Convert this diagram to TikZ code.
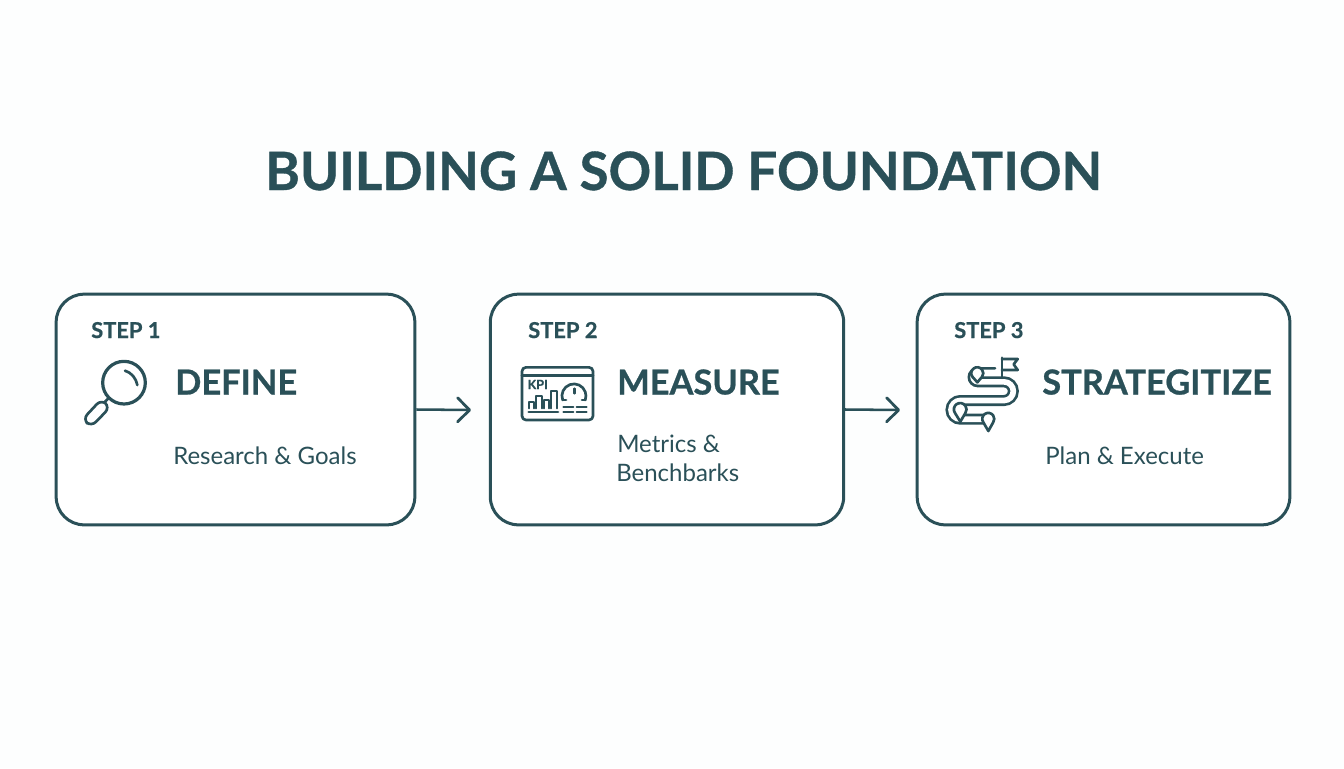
\documentclass[tikz,border=0pt]{standalone}
\usepackage{fontspec}
\setmainfont{Lato}
\newfontfamily\heavy[BoldFeatures={FakeBold=0.7}]{Lato}
\usetikzlibrary{arrows.meta}
\definecolor{teal}{HTML}{2A5058}
\definecolor{bgc}{HTML}{FDFEFE}
\tikzset{
 card/.style={draw=teal,line width=2.25pt,rounded corners=21pt,fill=white,inner sep=0pt},
 ink/.style={text=teal,inner sep=0pt,anchor=base west},
 titletext/.style={ink,anchor=base,font=\heavy\fontsize{39.6}{40}\selectfont\bfseries},
 steptext/.style={ink,font=\heavy\fontsize{16.4}{17}\selectfont\bfseries},
 headtext/.style={ink,font=\heavy\fontsize{25.8}{28}\selectfont\bfseries},
 subtext/.style={ink,font=\fontsize{18}{18}\selectfont},
 flow/.style={draw=teal,line width=1.9pt,-{Straight Barb[length=9pt,width=18pt,line width=2.1pt,round]}},
 icon/.style={draw=teal,line width=2pt,line cap=round,line join=round},
 thin/.style={draw=teal,line width=1.5pt,line cap=round,line join=round},
}
\begin{document}
\begin{tikzpicture}[x=0.75pt,y=-0.75pt]
\useasboundingbox[fill=bgc] (0,0) rectangle (1344,768);
\node[titletext] (title) at (683.5,190) {BUILDING A SOLID FOUNDATION};
\node[card,minimum width=269pt,minimum height=173pt] (box1) at (235.5,409.5) {};
\node[card,minimum width=265pt,minimum height=173pt] (box2) at (667,409.5) {};
\node[card,minimum width=279.5pt,minimum height=173pt] (box3) at (1103.5,409.5) {};
\coordinate (end1) at (471,410);
\coordinate (end2) at (900,410);
\draw[flow] (box1.east) -- (end1);
\draw[flow] (box2.east) -- (end2);
\node[steptext] (s1) at (91,338) {STEP 1};
\node[steptext] (s2) at (528,338) {STEP 2};
\node[steptext] (s3) at (954,338) {STEP 3};
\node[headtext] (h1) at (175,394.5) {DEFINE};
\node[headtext] (h2) at (617,394.5) {MEASURE};
\node[headtext] (h3) at (1042,394.5) {STRATEGITIZE};
\node[subtext] (d1) at (173,464) {Research \& Goals};
\node[subtext] (d2a) at (617,452) {Metrics \&};
\node[subtext] (d2b) at (616,481) {Benchbarks};
\node[subtext] (d3) at (1045,464) {Plan \& Execute};
% magnifier
\begin{scope}[shift={(60,310)},x=0.25pt,y=-0.25pt]
\draw[icon,line width=2.4pt] (192,218) circle (64);
\draw[icon] (195,182) .. controls (215,188) and (228,205) .. (232,225);
\draw[icon] (146,264) -- (134,276);
\draw[icon,rounded corners=5pt] (124,268) -- (150,292) -- (94,350) -- (68,328) -- cycle;
\end{scope}
% dashboard
\begin{scope}[shift={(510,350)},x=0.25pt,y=-0.25pt]
\draw[icon,rounded corners=3pt] (36,52) rectangle (249,210);
\draw[icon] (36,76) -- (249,76);
\node[ink,anchor=base,font=\heavy\fontsize{9.5}{9}\selectfont\bfseries] (kpi) at (83,117) {KPI};
\draw[thin] (56,175) -- (56,157) -- (72,157) -- (72,175);
\draw[thin] (78,175) -- (78,138) -- (96,138) -- (96,175);
\draw[thin] (102,175) -- (102,150) -- (118,150) -- (118,175);
\draw[thin] (122,175) -- (122,124) -- (140,124) -- (140,175);
\draw[icon] (56,186) -- (144,186);
\draw[icon] (158,150) arc (160:380:36);
\draw[icon] (158,150) -- (168,150);
\draw[icon] (216,150) -- (226,150);
\draw[icon] (193,116) -- (193,130);
\draw[thin] (160,172) -- (190,172);
\draw[thin] (200,172) -- (230,172);
\draw[thin] (160,185) -- (190,185);
\draw[thin] (200,185) -- (230,185);
\end{scope}
% route
\begin{scope}[shift={(935,345)},x=0.25pt,y=-0.25pt]
\draw[draw=teal,line width=8.25pt] (128,110.5) -- (207,110.5) arc (-90:90:28) -- (76,166.5) arc (270:90:28) -- (145,222.5);
\draw[draw=white,line width=4.25pt] (120,110.5) -- (207,110.5) arc (-90:90:28) -- (76,166.5) arc (270:90:28) -- (150,222.5);
\draw[icon] (180,70) -- (128,70) arc (270:90:26.5);
\draw[icon] (201,38) -- (201,98);
\draw[icon] (201,42) -- (248,42) -- (236,58) -- (248,75) -- (201,75);
\draw[icon,fill=white] (112,95) arc (145:395:18) -- (127,112) -- cycle;
\draw[icon,fill=white] (60,204) arc (145:395:19) -- (76,230) -- cycle;
\draw[icon,fill=white] (145,232) arc (145:395:18) -- (160,258) -- cycle;
\end{scope}
\end{tikzpicture}
\end{document}
